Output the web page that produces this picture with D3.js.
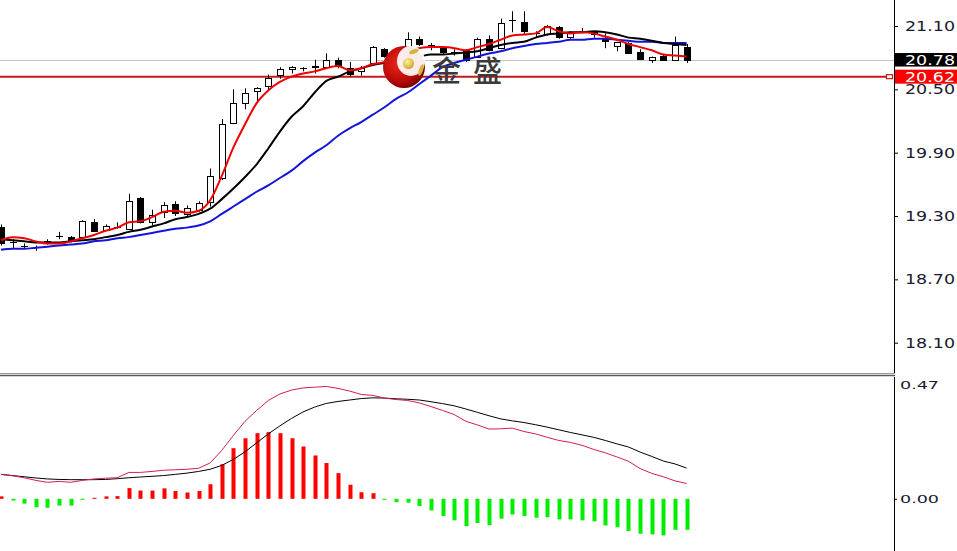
<!DOCTYPE html>
<html><head><meta charset="utf-8">
<script src="https://cdn.jsdelivr.net/npm/d3@7/dist/d3.min.js"></script>
<style>html,body{margin:0;padding:0;background:#fff;overflow:hidden}</style>
</head><body>
<script>
// ---- data ----
const opens  = [19.20,19.05,19.02,19.01,19.06,19.11,19.10,19.10,19.24,19.17,19.20,19.18,19.47,19.24,19.34,19.41,19.32,19.36,19.43,19.66,20.18,20.37,20.48,20.53,20.64,20.69,20.70,20.71,20.71,20.78,20.70,20.67,20.75,20.88,20.82,20.90,20.98,20.92,20.89,20.85,20.87,20.81,20.98,20.89,21.16,21.14,21.03,21.02,21.09,21.00,21.05,21.02,20.99,20.91,20.94,20.85,20.78,20.82,20.78,20.90];
const highs  = [19.22,19.08,19.04,19.02,19.08,19.15,19.11,19.26,19.27,19.22,19.24,19.51,19.48,19.36,19.43,19.44,19.40,19.44,19.75,20.22,20.50,20.51,20.52,20.64,20.71,20.72,20.71,20.78,20.84,20.80,20.76,20.72,20.91,20.89,20.88,21.04,21.00,20.94,20.90,20.88,20.88,20.99,21.01,21.17,21.24,21.24,21.05,21.11,21.10,21.05,21.08,21.04,21.03,20.95,20.95,20.88,20.81,20.83,21.00,20.93];
const lows   = [19.02,18.99,18.99,18.97,19.03,19.08,19.05,19.09,19.15,19.16,19.18,19.17,19.23,19.21,19.28,19.30,19.29,19.34,19.39,19.64,20.17,20.31,20.39,20.49,20.60,20.65,20.67,20.65,20.70,20.70,20.62,20.63,20.74,20.80,20.80,20.89,20.91,20.87,20.83,20.82,20.76,20.80,20.86,20.88,21.04,21.02,21.00,21.01,20.98,20.98,21.03,20.99,20.89,20.86,20.84,20.78,20.75,20.78,20.78,20.75];
const closes = [19.04,19.05,19.02,19.01,19.06,19.11,19.07,19.25,19.16,19.21,19.20,19.44,19.24,19.31,19.40,19.33,19.38,19.42,19.68,20.17,20.37,20.47,20.51,20.61,20.69,20.71,20.70,20.72,20.78,20.72,20.65,20.70,20.90,20.82,20.86,20.98,20.93,20.92,20.85,20.85,20.78,20.98,20.87,21.13,21.16,21.05,21.03,21.10,21.00,21.03,21.05,21.04,20.96,20.95,20.84,20.79,20.81,20.78,20.92,20.78];
const maRed  = [19.07,19.10,19.09,19.06,19.04,19.04,19.06,19.09,19.12,19.16,19.19,19.24,19.25,19.29,19.34,19.35,19.33,19.35,19.45,19.68,19.95,20.17,20.37,20.49,20.57,20.62,20.65,20.67,20.70,20.72,20.68,20.70,20.74,20.76,20.83,20.87,20.89,20.90,20.90,20.89,20.87,20.90,20.93,20.97,21.01,21.02,21.03,21.09,21.05,21.03,21.04,21.03,21.00,20.97,20.93,20.90,20.87,20.83,20.82,20.81];
const maBlack= [19.08,19.07,19.06,19.05,19.05,19.05,19.06,19.07,19.08,19.10,19.12,19.15,19.17,19.20,19.23,19.27,19.29,19.32,19.37,19.46,19.56,19.67,19.79,19.94,20.10,20.24,20.34,20.47,20.58,20.62,20.67,20.70,20.73,20.75,20.77,20.80,20.81,20.83,20.83,20.84,20.85,20.86,20.89,20.92,20.94,20.95,20.99,21.02,21.03,21.04,21.04,21.05,21.04,21.02,20.99,20.98,20.96,20.94,20.93,20.92];
const maBlue = [18.98,18.99,18.99,19.00,19.01,19.02,19.03,19.04,19.06,19.07,19.09,19.10,19.12,19.14,19.16,19.18,19.19,19.21,19.25,19.32,19.39,19.46,19.53,19.59,19.66,19.73,19.82,19.90,19.97,20.06,20.13,20.19,20.26,20.33,20.41,20.47,20.55,20.63,20.71,20.75,20.78,20.81,20.84,20.86,20.89,20.91,20.93,20.94,20.95,20.97,20.97,20.98,20.98,20.97,20.96,20.95,20.95,20.94,20.94,20.94];
const dif    = [0.101,0.095,0.087,0.076,0.068,0.072,0.068,0.076,0.082,0.085,0.087,0.109,0.109,0.113,0.118,0.120,0.122,0.126,0.148,0.200,0.262,0.320,0.365,0.406,0.433,0.449,0.458,0.461,0.464,0.456,0.445,0.431,0.427,0.416,0.410,0.406,0.396,0.381,0.365,0.348,0.320,0.305,0.288,0.289,0.292,0.278,0.268,0.254,0.241,0.233,0.221,0.204,0.190,0.173,0.155,0.125,0.105,0.091,0.074,0.063];
const dea    = [0.101,0.096,0.091,0.086,0.082,0.080,0.079,0.079,0.079,0.080,0.083,0.087,0.090,0.093,0.096,0.101,0.106,0.113,0.122,0.138,0.163,0.194,0.231,0.268,0.301,0.332,0.359,0.379,0.394,0.402,0.408,0.414,0.417,0.416,0.413,0.411,0.408,0.401,0.393,0.384,0.371,0.357,0.343,0.330,0.322,0.315,0.306,0.296,0.285,0.274,0.264,0.254,0.241,0.227,0.214,0.193,0.175,0.156,0.144,0.127];
const hist   = [0.010,-0.007,-0.020,-0.035,-0.037,-0.028,-0.028,-0.002,0.004,0.010,0.011,0.044,0.034,0.034,0.043,0.032,0.026,0.032,0.060,0.143,0.209,0.250,0.271,0.275,0.271,0.250,0.216,0.179,0.148,0.106,0.058,0.027,0.023,-0.002,-0.014,-0.016,-0.030,-0.048,-0.071,-0.089,-0.113,-0.100,-0.109,-0.082,-0.065,-0.071,-0.078,-0.076,-0.085,-0.085,-0.089,-0.093,-0.110,-0.117,-0.133,-0.144,-0.147,-0.151,-0.128,-0.128];
const priceTicks = [21.10,20.50,19.90,19.30,18.70,18.10];
const macdTicks = [0.47,0.00];
const bidPrice = 20.78;
const linePrice = 20.62;
const watermark = "金盛";

// ---- layout ----
const W = 957, H = 551;
const axisX = 894;
const mainBottom = 372, macdTop = 377;
const idx = d3.range(closes.length);

const x = d3.scaleLinear().domain([0, closes.length - 1]).range([1, 686.6]);
const yP = d3.scaleLinear().domain([18.10, 21.10]).range([342.7, 26]);
const yM = d3.scaleLinear().domain([0, 0.47]).range([498.8, 385]);

const svg = d3.select("body").append("svg").attr("width", W).attr("height", H)
  .style("display","block").style("background","#fff");

const defs = svg.append("defs");
defs.append("clipPath").attr("id","clipMain").append("rect")
  .attr("x",0).attr("y",0).attr("width",axisX).attr("height",mainBottom);
defs.append("clipPath").attr("id","clipMacd").append("rect")
  .attr("x",0).attr("y",macdTop).attr("width",axisX).attr("height",H-macdTop);
const rg = defs.append("radialGradient").attr("id","logoRed").attr("cx","40%").attr("cy","40%").attr("r","65%");
rg.append("stop").attr("offset","0%").attr("stop-color","#f02a1e");
rg.append("stop").attr("offset","70%").attr("stop-color","#b80808");
rg.append("stop").attr("offset","100%").attr("stop-color","#700000");
const yg = defs.append("radialGradient").attr("id","logoGold").attr("cx","40%").attr("cy","35%").attr("r","70%");
yg.append("stop").attr("offset","0%").attr("stop-color","#fff3a0");
yg.append("stop").attr("offset","100%").attr("stop-color","#c9a21e");

// ---- main panel ----
const main = svg.append("g").attr("clip-path","url(#clipMain)");

main.append("line").attr("x1",0).attr("x2",axisX)
  .attr("y1",Math.round(yP(bidPrice))+0.5).attr("y2",Math.round(yP(bidPrice))+0.5)
  .attr("stroke","#c4c4c4").attr("stroke-width",1);

main.append("line").attr("x1",0).attr("x2",887)
  .attr("y1",yP(linePrice)).attr("y2",yP(linePrice))
  .attr("stroke","#c81818").attr("stroke-width",2);
main.append("rect").attr("x",886.5).attr("y",yP(linePrice)-2).attr("width",6).attr("height",4)
  .attr("fill","#fff").attr("stroke","#c81818").attr("stroke-width",1.2);

const cg = main.append("g");
idx.forEach(i => {
  const cx = Math.round(x(i));
  const o = opens[i], c = closes[i];
  cg.append("line").attr("x1",cx+0.5).attr("x2",cx+0.5)
    .attr("y1",yP(highs[i])).attr("y2",yP(lows[i]))
    .attr("stroke","#000").attr("stroke-width",1);
  if (o === c) {
    cg.append("line").attr("x1",cx-3).attr("x2",cx+4)
      .attr("y1",Math.round(yP(o))+0.5).attr("y2",Math.round(yP(o))+0.5)
      .attr("stroke","#000").attr("stroke-width",1);
  } else {
    const top = Math.round(yP(Math.max(o,c))), bot = Math.round(yP(Math.min(o,c)));
    cg.append("rect").attr("x",cx-2.5).attr("y",top+0.5)
      .attr("width",6).attr("height",Math.max(1,bot-top))
      .attr("fill", c > o ? "#fff" : "#000").attr("stroke","#000").attr("stroke-width",1);
  }
});

const lineP = arr => d3.line().curve(d3.curveMonotoneX).x((d,i)=>x(i)).y(d=>yP(d))(arr);
main.append("path").attr("d",lineP(maBlue)).attr("fill","none").attr("stroke","#1414d8").attr("stroke-width",2);
main.append("path").attr("d",lineP(maBlack)).attr("fill","none").attr("stroke","#000").attr("stroke-width",2);
main.append("path").attr("d",lineP(maRed)).attr("fill","none").attr("stroke","#f00000").attr("stroke-width",2);

// watermark logo
const logo = svg.append("g");
logo.append("circle").attr("cx",404).attr("cy",67).attr("r",21).attr("fill","url(#logoRed)");
logo.append("ellipse").attr("cx",411).attr("cy",61).attr("rx",14).attr("ry",15).attr("fill","#fff").attr("opacity",0.92);
logo.append("circle").attr("cx",408.5).attr("cy",63.5).attr("r",5.5).attr("fill","url(#logoGold)");
logo.append("ellipse").attr("cx",414).attr("cy",51.5).attr("rx",5).attr("ry",2).attr("transform","rotate(-20 414 51.5)").attr("fill","#d6b43a");
logo.append("ellipse").attr("cx",421).attr("cy",70).attr("rx",2).attr("ry",6).attr("transform","rotate(20 421 70)").attr("fill","#d6b43a");
logo.append("text").attr("x",432).attr("y",82).text(watermark)
  .attr("font-family","'Noto Sans CJK SC', sans-serif").attr("font-size",29).attr("font-weight",500)
  .attr("letter-spacing",12).attr("fill","#3a3a3a");

// ---- MACD panel ----
const macd = svg.append("g").attr("clip-path","url(#clipMacd)");
macd.selectAll("rect.h").data(hist).enter().append("rect")
  .attr("x",(d,i)=>Math.round(x(i))-1.5)
  .attr("y",d=>d>=0 ? yM(d) : yM(0))
  .attr("width",4)
  .attr("height",d=>Math.max(1,Math.abs(yM(d)-yM(0))))
  .attr("fill",d=>d>=0 ? "#ff0000" : "#00ee00");
const lineM = arr => d3.line().x((d,i)=>x(i)).y(d=>yM(d))(arr);
macd.append("path").attr("d",lineM(dea)).attr("fill","none").attr("stroke","#000").attr("stroke-width",1);
macd.append("path").attr("d",lineM(dif)).attr("fill","none").attr("stroke","#d0204a").attr("stroke-width",1);

// ---- frame / separators ----
svg.append("line").attr("x1",axisX+0.5).attr("x2",axisX+0.5).attr("y1",0).attr("y2",mainBottom+1)
  .attr("stroke","#000").attr("stroke-width",1);
svg.append("line").attr("x1",axisX+0.5).attr("x2",axisX+0.5).attr("y1",macdTop).attr("y2",H)
  .attr("stroke","#000").attr("stroke-width",1);
svg.append("line").attr("x1",0).attr("x2",axisX+1).attr("y1",373.5).attr("y2",373.5).attr("stroke","#9a9a9a").attr("stroke-width",1);
svg.append("line").attr("x1",0).attr("x2",axisX+1).attr("y1",375.5).attr("y2",375.5).attr("stroke","#5a5a5a").attr("stroke-width",1.5);

// ---- axes ----
const fmt = d3.format(".2f");
const axP = svg.append("g").attr("transform",`translate(${axisX},0)`)
  .call(d3.axisRight(yP).tickValues(priceTicks).tickSize(4).tickPadding(7).tickFormat(fmt));
axP.select(".domain").remove();
axP.selectAll(".tick line").attr("stroke","#000");
axP.selectAll(".tick text").attr("font-family","'DejaVu Sans', Verdana, sans-serif")
  .attr("font-size",13.5).attr("fill","#1a1a30")
  .attr("textLength",50).attr("lengthAdjust","spacingAndGlyphs");

const axM = svg.append("g").attr("transform",`translate(${axisX},0)`)
  .call(d3.axisRight(yM).tickValues(macdTicks).tickSize(3).tickPadding(3).tickFormat(fmt));
axM.select(".domain").remove();
axM.selectAll(".tick line").attr("stroke","#000").attr("stroke-width",(d)=>d===0?1:0);
axM.selectAll(".tick text").attr("font-family","'DejaVu Sans', Verdana, sans-serif")
  .attr("font-size",11).attr("fill","#1a1a30")
  .attr("textLength",39).attr("lengthAdjust","spacingAndGlyphs");

// ---- price tags ----
function tag(price, bg, h) {
  const yc = yP(price);
  svg.append("rect").attr("x",axisX+1).attr("y",yc-h/2).attr("width",W-axisX-1).attr("height",h).attr("fill",bg);
  svg.append("text").attr("x",905).attr("y",yc).attr("dy","0.36em").text(fmt(price))
    .attr("font-family","'DejaVu Sans', Verdana, sans-serif").attr("font-size",13.5)
    .attr("fill","#fff").attr("textLength",50).attr("lengthAdjust","spacingAndGlyphs");
}
tag(bidPrice, "#000", 13.5);
tag(linePrice, "#ff0000", 14);
</script>
</body></html>
